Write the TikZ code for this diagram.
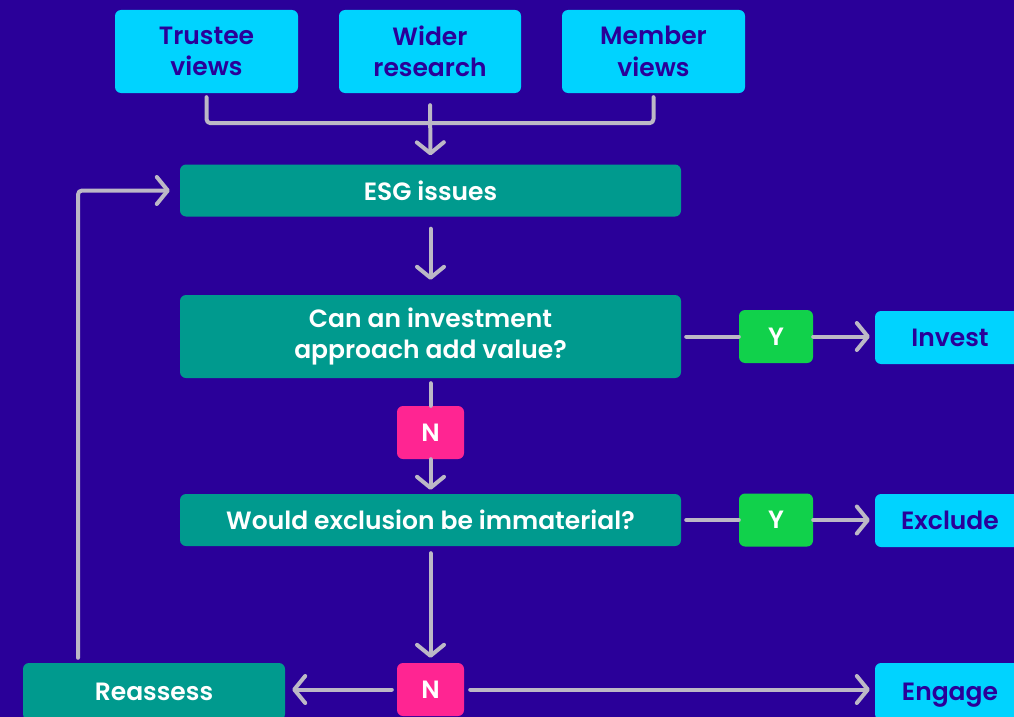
\documentclass[tikz,border=0pt]{standalone}
\usepackage{fontspec}
\setmainfont{Poppins}[BoldFont={Poppins SemiBold}]
\usetikzlibrary{arrows.meta}
\definecolor{bg}{RGB}{42,0,153}
\definecolor{cyanbox}{RGB}{0,211,255}
\definecolor{tealbox}{RGB}{0,154,142}
\definecolor{greenbox}{RGB}{17,209,75}
\definecolor{pinkbox}{RGB}{255,37,146}
\definecolor{conncol}{RGB}{188,184,198}
\tikzset{
  box/.style={rounded corners=6pt, inner sep=0pt, align=center, font=\fontsize{25}{31.5}\selectfont\bfseries},
  input/.style={box, fill=cyanbox, text=bg},
  step box/.style={box, fill=tealbox, text=white},
  yes/.style={box, fill=greenbox, text=white, minimum width=74pt, minimum height=53pt},
  no/.style={box, fill=pinkbox, text=white, minimum width=67pt, minimum height=53pt},
  conn/.style={draw=conncol, line width=4pt, line cap=round, line join=round, rounded corners=4pt},
  arr/.style={conn, -{Straight Barb[length=11pt,width=27pt,line cap=round,line join=round]}},
}
\begin{document}
\begin{tikzpicture}[x=1pt,y=-1pt]
\fill[bg] (0,0) rectangle (1014,717);
\useasboundingbox (0,0) rectangle (1014,717);
\node[input, minimum width=183pt, minimum height=83pt] (trustee) at (206.5,51.5) {Trustee\\views};
\node[input, minimum width=182pt, minimum height=83pt] (wider) at (430,51.5) {Wider\\research};
\node[input, minimum width=183pt, minimum height=83pt] (member) at (653.5,51.5) {Member\\views};
\node[step box, minimum width=501pt, minimum height=52pt] (esg) at (430.5,190.5) {ESG issues};
\node[step box, minimum width=501pt, minimum height=83pt] (can) at (430.5,336.5) {Can an investment\\approach add value?};
\node[yes] (y1) at (776,336.5) {Y};
\node[input, minimum width=150pt, minimum height=53pt] (invest) at (950,337.5) {Invest};
\node[no] (n1) at (430.5,432.5) {N};
\node[step box, minimum width=501pt, minimum height=52pt] (would) at (430.5,520) {Would exclusion be immaterial?};
\node[yes] (y2) at (776,520) {Y};
\node[input, minimum width=150pt, minimum height=53pt] (exclude) at (950,520.5) {Exclude};
\node[no] (n2) at (430.5,689.5) {N};
\node[step box, minimum width=262pt, minimum height=57pt] (reassess) at (154,691.5) {Reassess};
\node[input, minimum width=150pt, minimum height=57pt, text height=24pt, text depth=6pt] (engage) at (950,691.5) {Engage};
\coordinate (loopx) at (78,0);
% connectors
\draw[conn, shorten <=4pt, shorten >=4pt] (trustee.south) -- ++(0,30) -| (member.south);
\draw[arr, shorten <=12pt, shorten >=9pt] (wider.south) -- (esg.north);
\draw[arr, shorten <=12pt, shorten >=15pt] (esg.south) -- (can.north);
\draw[conn, shorten <=5pt] (can.south) -- (n1.north);
\draw[arr, shorten >=4pt] (n1.south) -- (would.north);
\draw[conn, shorten <=5pt] (can.east) -- (y1.west);
\draw[arr, shorten >=5pt] (y1.east) -- (invest.west |- y1.east);
\draw[conn, shorten <=5pt] (would.east) -- (y2.west);
\draw[arr, shorten >=5pt] (y2.east) -- (exclude.west |- y2.east);
\draw[arr, shorten <=7pt, shorten >=5pt] (would.south) -- (n2.north);
\draw[arr, shorten <=5pt, shorten >=7pt] (n2.west) -- (reassess.east |- n2.west);
\draw[arr, shorten <=6pt, shorten >=5pt] (n2.east) -- (engage.west |- n2.east);
\draw[arr, shorten <=5pt, shorten >=10pt] (reassess.north -| loopx) |- (esg.west);
\end{tikzpicture}
\end{document}
